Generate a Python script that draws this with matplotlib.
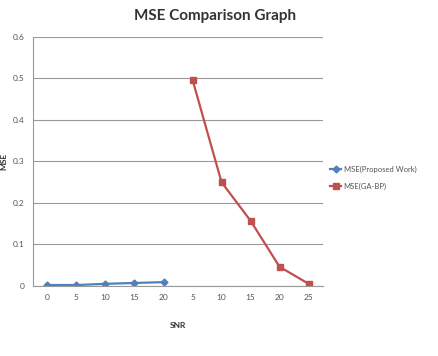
import numpy as np
import matplotlib
matplotlib.use("Agg")
import matplotlib.pyplot as plt

plt.rcParams['font.family'] = ['Lato', 'DejaVu Sans']

# SNR categories (two series share one categorical axis)
snr_labels = ["0", "5", "10", "15", "20", "5", "10", "15", "20", "25"]
mse_proposed = [0.002, 0.002, 0.005, 0.007, 0.009]
mse_gabp = [0.497, 0.250, 0.157, 0.046, 0.005]

pos = np.arange(len(snr_labels))
pos_proposed = pos[:len(mse_proposed)]
pos_gabp = pos[len(mse_proposed):]

fig = plt.figure(figsize=(4.39, 3.56), dpi=100)
ax = fig.add_axes([0.075, 0.197, 0.661, 0.699])

ax.plot(pos_proposed, mse_proposed, color='#4F81BD', marker='D', markersize=3.5,
        linewidth=1.6, label='MSE(Proposed Work)')
ax.plot(pos_gabp, mse_gabp, color='#C0504D', marker='s', markersize=4.5,
        linewidth=1.6, label='MSE(GA-BP)')

ax.set_xlim(-0.5, len(snr_labels) - 0.5)
ax.set_ylim(0, 0.6)
ax.set_xticks(pos)
ax.set_xticklabels(snr_labels)
ax.set_yticks(np.arange(0, 0.61, 0.1))
ax.set_yticklabels(['0', '0.1', '0.2', '0.3', '0.4', '0.5', '0.6'])
ax.tick_params(axis='both', labelsize=6, colors='#555555', length=0, pad=6)
ax.grid(axis='y', color='#999999', linewidth=0.8)
ax.set_axisbelow(True)

for s in ['top', 'right']:
    ax.spines[s].set_visible(False)
ax.spines['left'].set_color('#999999')
ax.spines['bottom'].set_color('#999999')

fig.text(0.49, 0.955, 'MSE Comparison Graph', fontsize=11, fontweight='bold',
         color='#333333', ha='center', va='center')
ax.set_xlabel('SNR', fontsize=6, fontweight='bold', color='#333333', labelpad=15)
ax.set_ylabel('MSE', fontsize=6, fontweight='bold', color='#333333', labelpad=4)

ax.legend(loc='center left', bbox_to_anchor=(1.0, 0.434), frameon=False, fontsize=5.5,
          handlelength=1.5, handletextpad=0.3, labelspacing=1.3, labelcolor='#555555')

fig.savefig('out.png', dpi=100)
